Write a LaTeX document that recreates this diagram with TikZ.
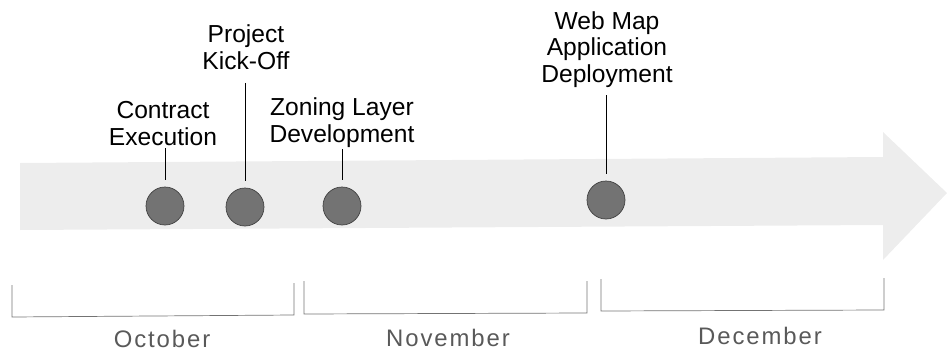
\documentclass[tikz,border=0pt]{standalone}
\usepackage{fontspec}
\setmainfont{Liberation Sans}
\usetikzlibrary{positioning}

\tikzset{
  milestone/.style={circle,draw=black!75,fill=black!55,minimum size=0.76cm,inner sep=0pt},
  tag/.style={align=center,inner sep=0pt,anchor=south,font=\fontsize{14}{15.2}\selectfont},
  leader/.style={thin,black,shorten >=0.14cm},
  bracket/.style={black!55,thin},
  month/.style={text=black!65,font=\fontsize{13.6}{15}\selectfont\addfontfeature{LetterSpace=8}},
}

\begin{document}
\begin{tikzpicture}[x=0.02cm,y=-0.02cm]
\useasboundingbox (0,0) rectangle (948,352);

% timeline arrow
\fill[black!7] (20,163) -- (883,157) -- (883,132) -- (947,193) -- (883,260)
  -- (883,225) -- (20,230) -- cycle;

% milestones
\node[milestone] (contract) at (165,206) {};
\node[milestone] (kickoff) at (245,207) {};
\node[milestone] (zoning) at (342,206) {};
\node[milestone] (webmap) at (606,200) {};

\node[tag] (contractlbl) at (163,146) {Contract\\Execution};
\node[tag] (kickofflbl) at (246,70) {Project\\Kick-Off};
\node[tag] (zoninglbl) at (342,148) {Zoning Layer\\Development};
\node[tag] (webmaplbl) at (607,88) {Web Map\\Application\\Deployment};

\draw[leader, shorten <=0.04cm] (contractlbl.south -| contract) -- (contract);
\draw[leader, shorten <=0.26cm] (kickofflbl.south -| kickoff) -- (kickoff);
\draw[leader, shorten <=0.02cm] (zoninglbl.south -| zoning) -- (zoning);
\draw[leader, shorten <=0.14cm] (webmaplbl.south -| webmap) -- (webmap);

% months
\draw[bracket] (12,285) -- (12,317) -- (294,315) -- (294,283);
\draw[bracket] (304,281) -- (304,314) -- (587,313) -- (587,281);
\draw[bracket] (601,279) -- (601,311) -- (884,310) -- (884,278);

\node[month] (oct) at (162,339) {October};
\node[month] (nov) at (448,338) {November};
\node[month] (dec) at (760,336) {December};

\end{tikzpicture}
\end{document}
